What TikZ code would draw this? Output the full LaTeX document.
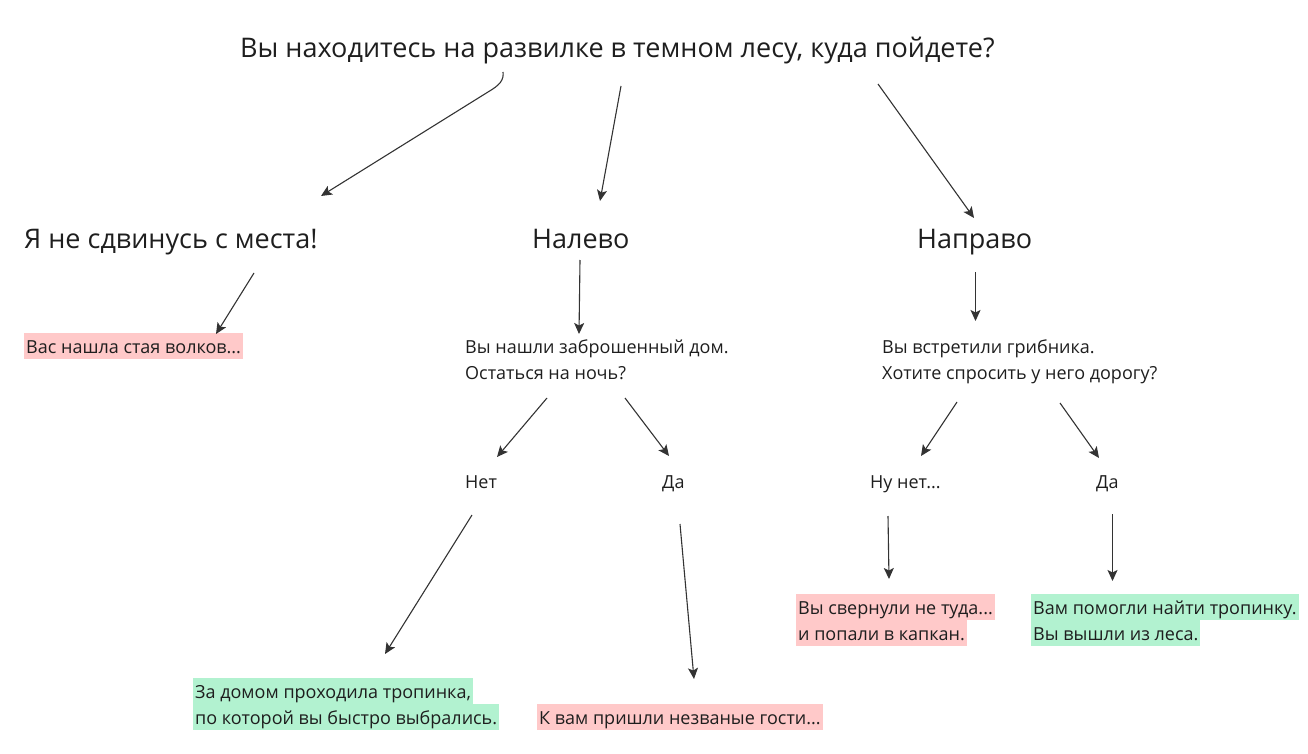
\documentclass[tikz,border=0pt]{standalone}
\usepackage{fontspec}
\setmainfont{Open Sans}
\usetikzlibrary{arrows.meta}
\definecolor{pinkhl}{HTML}{FFC9C9}
\definecolor{greenhl}{HTML}{B2F2D0}
\definecolor{ink}{HTML}{1E1E1E}
\definecolor{arr}{HTML}{333333}
\tikzset{
  big/.style={anchor=base west, inner sep=0pt, font=\fontsize{27}{32}\selectfont, text=ink},
  small/.style={anchor=base west, inner sep=0pt, font=\fontsize{18}{22}\selectfont, text=ink},
  hl/.style={small, inner xsep=2pt, inner ysep=0pt, text height=20pt, text depth=6pt},
  pinkbox/.style={hl, fill=pinkhl},
  greenbox/.style={hl, fill=greenhl},
  arrow/.style={draw=arr, line width=1.1pt, -{Stealth[length=11pt,width=10pt,inset=2.5pt]}},
}
\begin{document}
\begin{tikzpicture}[x=1pt,y=-1pt]
\useasboundingbox (0,0) rectangle (1308,754);
% nodes
\node[big] (title) at (240,58) {Вы находитесь на развилке в темном лесу, куда пойдете?};
\node[big] (stay) at (24,248) {Я не сдвинусь с места!};
\node[big] (left) at (532,248) {Налево};
\node[big] (right) at (917,248) {Направо};
\node[pinkbox] (wolves) at (24,353) {Вас нашла стая волков...};
\node[small] (house1) at (465,353) {Вы нашли заброшенный дом.};
\node[small] (house2) at (465,379) {Остаться на ночь?};
\node[small] (mush1) at (882,353) {Вы встретили грибника.};
\node[small] (mush2) at (882,379) {Хотите спросить у него дорогу?};
\node[small] (no1) at (465,488) {Нет};
\node[small] (yes1) at (662,488) {Да};
\node[small] (no2) at (870,488) {Ну нет...};
\node[small] (yes2) at (1096,488) {Да};
\node[pinkbox] (trap1) at (796,614) {Вы свернули не туда...};
\node[pinkbox] (trap2) at (796,640) {и попали в капкан.};
\node[greenbox] (help1) at (1031,614) {Вам помогли найти тропинку.};
\node[greenbox] (help2) at (1031,640) {Вы вышли из леса.};
\node[greenbox] (path1) at (193,698) {За домом проходила тропинка,};
\node[greenbox] (path2) at (193,724) {по которой вы быстро выбрались.};
\node[pinkbox] (guests) at (537,724) {К вам пришли незваные гости...};
% connector end points
\coordinate (s1) at (503,72);  \coordinate (e1) at (321,196);
\coordinate (s2) at (621,86);  \coordinate (e2) at (600,201);
\coordinate (s3) at (878,84);  \coordinate (e3) at (974,218);
\coordinate (s4) at (254,273); \coordinate (e4) at (216,334);
\coordinate (s5) at (580,260); \coordinate (e5) at (579,334);
\coordinate (s6) at (975.5,272); \coordinate (e6) at (975.5,321);
\coordinate (s7) at (547,398); \coordinate (e7) at (497,457);
\coordinate (s8) at (625,398); \coordinate (e8) at (669,456);
\coordinate (s9) at (957,402); \coordinate (e9) at (921,456);
\coordinate (s10) at (1060,403); \coordinate (e10) at (1099,458);
\coordinate (s11) at (472,515); \coordinate (e11) at (385,654);
\coordinate (s12) at (680,524); \coordinate (e12) at (694,679);
\coordinate (s13) at (888,516); \coordinate (e13) at (889,579);
\coordinate (s14) at (1112.5,514); \coordinate (e14) at (1112.5,581);
% connectors
\draw[arrow] (s1) .. controls (504,80) and (500,85) .. (488,92) -- (e1);
\draw[arrow] (s2) -- (e2);
\draw[arrow] (s3) -- (e3);
\draw[arrow] (s4) -- (e4);
\draw[arrow] (s5) -- (e5);
\draw[arrow] (s6) -- (e6);
\draw[arrow] (s7) -- (e7);
\draw[arrow] (s8) -- (e8);
\draw[arrow] (s9) -- (e9);
\draw[arrow] (s10) -- (e10);
\draw[arrow] (s11) -- (e11);
\draw[arrow] (s12) -- (e12);
\draw[arrow] (s13) -- (e13);
\draw[arrow] (s14) -- (e14);
\end{tikzpicture}
\end{document}
